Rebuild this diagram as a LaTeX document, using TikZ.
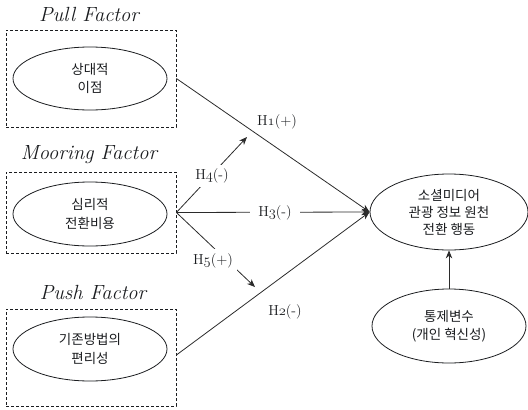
\documentclass[tikz,border=0pt]{standalone}
\usepackage{fontspec}
\usetikzlibrary{arrows.meta,positioning,shapes.geometric}
\newfontfamily\korfont{Noto Sans CJK KR}
\definecolor{ink}{HTML}{1A1C1F}
\definecolor{wire}{HTML}{2B2B2B}
% old-style digit for hypothesis labels
\newcommand{\hyp}[2]{H{\usefont{OML}{cmm}{m}{it}#1}(#2)}

\begin{document}
\begin{tikzpicture}[
    x=1pt,y=-1pt,
    >={Stealth[length=8pt,width=6.5pt]},
    % --- factor groups ----------------------------------------------
    grouptitle/.style={font=\fontsize{20.5}{22}\selectfont\itshape,text=ink,inner sep=0pt},
    groupbox/.style={draw=ink,dashed,dash pattern=on 3pt off 2pt,line width=0.8pt,
                     minimum width=170pt,inner sep=0pt},
    % --- constructs --------------------------------------------------
    construct/.style={ellipse,draw=ink,line width=0.8pt,inner sep=0pt,align=center,
                      text=ink,font=\korfont\fontsize{13.5}{18.5}\selectfont},
    % --- paths and labels --------------------------------------------
    hpath/.style={draw=wire,line width=0.8pt},
    hlab/.style={font=\fontsize{14.5}{16}\selectfont,text=ink,inner sep=1pt},
    hcut/.style={hlab,fill=white},
  ]
\useasboundingbox (0,0) rectangle (528,410);

% =====================================================================
%  Factor groups (left column)
% =====================================================================
\node[grouptitle] (pullT) at (89,14) {Pull Factor};
\node[groupbox,minimum height=97pt] (pullbox) at (91,78.5) {};
\node[construct,minimum width=154pt,minimum height=63pt] (advantage) at (90,78.5)
     {상대적\\이점};

\node[grouptitle] (moorT) at (89,155) {Mooring Factor};
\node[groupbox,minimum height=81pt] (moorbox) at (91,212.5) {};
\node[construct,minimum width=154pt,minimum height=64pt] (cost) at (90,214)
     {심리적\\전환비용};

\node[grouptitle] (pushT) at (93,292) {Push Factor};
\node[groupbox,minimum height=97pt] (pushbox) at (91,357.5) {};
\node[construct,minimum width=154pt,minimum height=64pt] (convenience) at (90,349)
     {기존방법의\\편리성};

% =====================================================================
%  Outcome and control
% =====================================================================
\node[construct,minimum width=158pt,minimum height=76pt,
      font=\korfont\fontsize{13.5}{17}\selectfont] (switch) at (449,212)
     {소셜미디어\\관광 정보 원천\\전환 행동};
\node[construct,minimum width=154pt,minimum height=74pt] (control) at (449,326)
     {통제변수\\(개인 혁신성)};

% =====================================================================
%  Hypothesised paths
% =====================================================================
\coordinate (upEnd) at (247,137);
\coordinate (downEnd) at (255,287);

\draw[hpath,->] (pullbox.east) -- (switch.west);
\draw[hpath,->] (pushbox.east |- 0,355) -- (switch.west);
\draw[hpath,->] (moorbox.east) -- (switch.west);
\draw[hpath,->] (moorbox.east) -- (upEnd);
\draw[hpath,->] (moorbox.east) -- (downEnd);
\draw[hpath,->] (control.north) -- (switch.south);

% ---- labels ---------------------------------------------------------
\node[hlab] at (277,122) {\hyp{1}{+}};
\node[hlab] at (285,312) {\hyp{2}{-}};
\node[hcut,inner xsep=8pt] at (275,213) {\hyp{3}{-}};
\node[hcut,inner sep=3.5pt] at (212,176) {\hyp{4}{-}};
\node[hcut,inner sep=4.5pt] at (213,261) {\hyp{5}{+}};

\end{tikzpicture}
\end{document}
